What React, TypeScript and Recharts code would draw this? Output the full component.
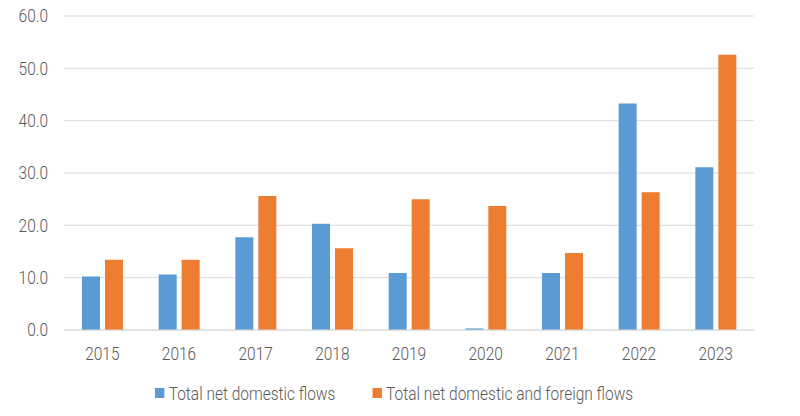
import React from "react";
import { BarChart, Bar, XAxis, YAxis, CartesianGrid, Legend } from "recharts";

const years = ["2015", "2016", "2017", "2018", "2019", "2020", "2021", "2022", "2023"];
const domesticFlows = [10.2, 10.6, 17.7, 20.3, 10.9, 0.3, 10.9, 43.3, 31.1];
const domesticForeignFlows = [13.4, 13.4, 25.6, 15.6, 25.0, 23.7, 14.7, 26.3, 52.6];
const yTicks = [0, 10, 20, 30, 40, 50, 60];

const BLUE = "#5b9bd5";
const ORANGE = "#ed7d31";
const TEXT = "#595959";
const FONT = "Roboto, sans-serif";
const FS = 18;
const FW = 300;
const SQUEEZE = 0.86; // the original font is a condensed face

const data = years.map((y, i) => ({
  year: y,
  domestic: domesticFlows[i],
  foreign: domesticForeignFlows[i],
}));

// eslint-disable-next-line @typescript-eslint/no-explicit-any
function XTick({ x, y, payload }: any) {
  return (
    <text
      x={x}
      y={y}
      dy="0.71em"
      textAnchor="middle"
      fill={TEXT}
      fontSize={FS}
      fontWeight={FW}
      fontFamily={FONT}
      transform={`translate(${x} ${y}) scale(${SQUEEZE} 1) translate(${-x} ${-y})`}
    >
      {payload.value}
    </text>
  );
}

// eslint-disable-next-line @typescript-eslint/no-explicit-any
function YTick({ x, y, payload }: any) {
  return (
    <text
      x={x}
      y={y}
      dy="0.355em"
      textAnchor="end"
      fill={TEXT}
      fontSize={FS}
      fontWeight={FW}
      fontFamily={FONT}
      transform={`translate(${x} ${y}) scale(${SQUEEZE} 1) translate(${-x} ${-y})`}
    >
      {Number(payload.value).toFixed(1)}
    </text>
  );
}

function LegendContent() {
  const items = [
    { label: "Total net domestic flows", color: BLUE },
    { label: "Total net domestic and foreign flows", color: ORANGE },
  ];
  return (
    <div style={{ display: "flex", justifyContent: "center", alignItems: "center", height: 46, paddingLeft: 34 }}>
      <div style={{ display: "flex", gap: 43, alignItems: "center", transform: `scaleX(${SQUEEZE})`, transformOrigin: "center", whiteSpace: "nowrap" }}>
        {items.map((it) => (
          <div key={it.label} style={{ display: "flex", alignItems: "center", fontFamily: FONT, fontSize: FS, fontWeight: FW, color: TEXT }}>
            <span style={{ width: 11, height: 10, background: it.color, marginRight: 5, display: "inline-block" }} />
            {it.label}
          </div>
        ))}
      </div>
    </div>
  );
}

export default function App() {
  return (
    <div style={{ position: "absolute", left: 0, top: 0, width: 800, height: 416, background: "#fff" }}>
      <BarChart
        width={800}
        height={416}
        data={data}
        margin={{ top: 16, right: 46, left: 0, bottom: 0 }}
        barCategoryGap="23%"
        barGap={5}
      >
        <CartesianGrid vertical={false} stroke="#d9d9d9" />
        <XAxis
          dataKey="year"
          height={40}
          tickLine={false}
          axisLine={{ stroke: "#d9d9d9" }}
          tick={<XTick />}
          tickMargin={11}
        />
        <YAxis
          width={64}
          domain={[0, 60]}
          ticks={yTicks}
          interval={0}
          axisLine={false}
          tickLine={false}
          tick={<YTick />}
          tickMargin={10}
        />
        <Legend verticalAlign="bottom" content={<LegendContent />} />
        <Bar dataKey="domestic" fill={BLUE} barSize={18} isAnimationActive={false} />
        <Bar dataKey="foreign" fill={ORANGE} barSize={18} isAnimationActive={false} />
      </BarChart>
    </div>
  );
}
